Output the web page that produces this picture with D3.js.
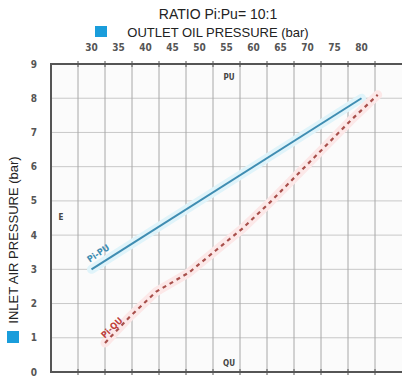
<!DOCTYPE html>
<html><head><meta charset="utf-8">
<script src="https://cdn.jsdelivr.net/npm/d3@7"></script>
<style>body{margin:0;background:#fff}svg{display:block}</style>
</head><body>
<svg id="c" width="402" height="377"></svg>
<script>
// ---- data ----
const xTickLabels = [30, 35, 40, 45, 50, 55, 60, 65, 70, 75, 80];
const xGridValues = [27.5, 32.5, 37.5, 42.5, 47.5, 52.5, 57.5, 62.5, 67.5, 72.5, 77.5, 82.5];
const yTickValues = [0, 1, 2, 3, 4, 5, 6, 7, 8, 9];
const puOutlet = [30, 80];
const puInlet = [3, 8];
const quOutlet = [32.5, 37, 42, 48, 53, 58, 63, 68, 73, 78, 83];
const quInlet = [0.85, 1.6, 2.35, 2.9, 3.55, 4.2, 4.95, 5.75, 6.55, 7.35, 8.1];
const title = "RATIO Pi:Pu= 10:1";
const xTitle = "OUTLET OIL PRESSURE (bar)";
const yTitle = "INLET AIR PRESSURE (bar)";

const svg = d3.select("#c");
const x = d3.scaleLinear().domain([22.5, 87.5]).range([51, 402]);
const y = d3.scaleLinear().domain([0, 9]).range([372, 64]);
const font = "'Liberation Sans', Arial, sans-serif";
const tickFont = "'DejaVu Sans Condensed', 'DejaVu Sans', sans-serif";

// plot background
svg.append("rect").attr("x", x(22.5)).attr("y", y(9)).attr("width", x(87.5) - x(22.5)).attr("height", y(0) - y(9)).attr("fill", "#fbfbfb");

// horizontal grid
svg.append("g").selectAll("line").data(yTickValues.slice(1, -1)).join("line")
  .attr("x1", x(22.5)).attr("x2", x(87.5)).attr("y1", d => y(d)).attr("y2", d => y(d))
  .attr("stroke", "#c8c8c8").attr("stroke-width", 1);
// vertical grid
svg.append("g").selectAll("line").data(xGridValues).join("line")
  .attr("x1", d => x(d)).attr("x2", d => x(d)).attr("y1", y(9)).attr("y2", y(0))
  .attr("stroke", "#a8a8a8").attr("stroke-width", 1);

// lines
const line = d3.line().x(d => x(d[0])).y(d => y(d[1]));
const puData = d3.zip(puOutlet, puInlet);
const quData = d3.zip(quOutlet, quInlet);
svg.append("path").datum(puData).attr("d", line).attr("fill", "none")
  .attr("stroke", "#e0f4fa").attr("stroke-width", 9).attr("stroke-linecap", "round");
svg.append("path").datum(quData).attr("d", line).attr("fill", "none")
  .attr("stroke", "#fce8e8").attr("stroke-width", 9).attr("stroke-linecap", "round");
svg.append("path").datum(puData).attr("d", line).attr("fill", "none")
  .attr("stroke", "#3f8db2").attr("stroke-width", 2);
svg.append("path").datum(quData).attr("d", line).attr("fill", "none")
  .attr("stroke", "#a8504c").attr("stroke-width", 2.2).attr("stroke-dasharray", "4,4");

// axes
const axisColor = "#555";
svg.append("line").attr("x1", x(22.5)).attr("x2", x(87.5)).attr("y1", y(9)).attr("y2", y(9))
  .attr("stroke", axisColor).attr("stroke-width", 2);
svg.append("line").attr("x1", x(22.5)).attr("x2", x(87.5)).attr("y1", y(0)).attr("y2", y(0))
  .attr("stroke", axisColor).attr("stroke-width", 2);
svg.append("line").attr("x1", x(22.5)).attr("x2", x(22.5)).attr("y1", y(9) - 1).attr("y2", y(0) + 1)
  .attr("stroke", axisColor).attr("stroke-width", 2);
[y(9), y(0)].forEach(yy => {
  svg.append("g").selectAll("line").data(xGridValues).join("line")
    .attr("x1", d => x(d)).attr("x2", d => x(d)).attr("y1", yy - 3).attr("y2", yy + 3)
    .attr("stroke", axisColor).attr("stroke-width", 1);
});

// tick labels
svg.append("g").selectAll("text").data(xTickLabels).join("text")
  .attr("x", d => x(d)).attr("y", 51).attr("text-anchor", "middle")
  .attr("font-family", tickFont).attr("font-size", 10).attr("font-weight", "bold")
  .attr("fill", "#555").text(d => d);
svg.append("g").selectAll("text").data(yTickValues).join("text")
  .attr("x", 34).attr("y", d => y(d) + 3.5).attr("text-anchor", "middle")
  .attr("font-family", tickFont).attr("font-size", 10).attr("font-weight", "bold")
  .attr("fill", "#555").text(d => d);

// titles
svg.append("text").attr("x", 218).attr("y", 19).attr("text-anchor", "middle")
  .attr("font-family", font).attr("font-size", 14).attr("fill", "#222").text(title);
svg.append("rect").attr("x", 95).attr("y", 26).attr("width", 12).attr("height", 11).attr("fill", "#1a9ddb");
svg.append("text").attr("x", 218).attr("y", 37).attr("text-anchor", "middle")
  .attr("font-family", font).attr("font-size", 13).attr("fill", "#222").text(xTitle);
svg.append("rect").attr("x", 7).attr("y", 331).attr("width", 12).attr("height", 12).attr("fill", "#1a9ddb");
svg.append("text").attr("transform", "translate(18,240) rotate(-90)").attr("text-anchor", "middle")
  .attr("font-family", font).attr("font-size", 13).attr("fill", "#222").text(yTitle);

// annotations
svg.append("text").attr("x", 229).attr("y", 80).attr("text-anchor", "middle")
  .attr("font-family", tickFont).attr("font-size", 8).attr("font-weight", "bold").attr("fill", "#444").text("PU");
svg.append("text").attr("x", 229).attr("y", 366).attr("text-anchor", "middle")
  .attr("font-family", tickFont).attr("font-size", 8).attr("font-weight", "bold").attr("fill", "#444").text("QU");
svg.append("text").attr("x", 61).attr("y", 220).attr("text-anchor", "middle")
  .attr("font-family", tickFont).attr("font-size", 8).attr("font-weight", "bold").attr("fill", "#444").text("E");
svg.append("text").attr("transform", "translate(100,256) rotate(-34)").attr("text-anchor", "middle")
  .attr("font-family", tickFont).attr("font-size", 9).attr("font-weight", "bold").attr("fill", "#3f8db2").text("Pi-PU");
svg.append("text").attr("transform", "translate(114,330) rotate(-44)").attr("text-anchor", "middle")
  .attr("font-family", tickFont).attr("font-size", 9).attr("font-weight", "bold").attr("fill", "#c0403c").text("Pi-QU");
</script>
</body></html>
